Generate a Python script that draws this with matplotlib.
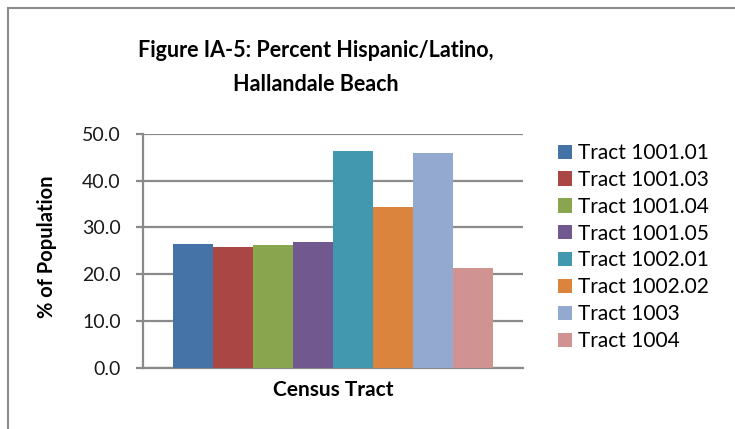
import numpy as np
import matplotlib
matplotlib.use("Agg")
import matplotlib.pyplot as plt
from matplotlib.lines import Line2D

# percent Hispanic/Latino by census tract
tracts = ["Tract 1001.01", "Tract 1001.03", "Tract 1001.04", "Tract 1001.05",
          "Tract 1002.01", "Tract 1002.02", "Tract 1003", "Tract 1004"]
pct = [26.4, 25.8, 26.2, 26.9, 46.3, 34.3, 45.9, 21.3]
colors = ["#4572A7", "#AA4643", "#89A54E", "#71588F",
          "#4198AF", "#DB843D", "#93A9CF", "#D19392"]
yticks = [0, 10, 20, 30, 40, 50]

plt.rcParams['font.family'] = ['Lato', 'DejaVu Sans']

fig = plt.figure(figsize=(7.35, 4.29), dpi=100)
ax = fig.add_axes([143/735, 1 - 367.7/429, 380/735, 234/429])

n = len(pct)
xs = np.arange(n) - (n - 1) / 2.0
for x, v, c, lab in zip(xs, pct, colors, tracts):
    ax.bar(x, v, width=1.0, color=c, label=lab, zorder=3)

ax.set_xlim(-n / 2.0 - 0.75, n / 2.0 + 0.75)
ax.set_ylim(0, 50)
ax.set_yticks(yticks)
ax.set_yticklabels(["%.1f" % t for t in yticks], fontsize=14, color="#1a1a1a")
ax.set_xticks([])

grid_c = "#8a8a8a"
ax.yaxis.grid(True, color=grid_c, linewidth=1.6, zorder=0)
ax.tick_params(axis="y", direction="out", length=5, width=1.6, color=grid_c, pad=11)
for s in ["top", "right"]:
    ax.spines[s].set_visible(False)
for s in ["left", "bottom"]:
    ax.spines[s].set_color(grid_c)
    ax.spines[s].set_linewidth(1.6)

fig.text(316/735, 1 - 57/429, "Figure IA-5: Percent Hispanic/Latino,",
         ha="center", va="baseline", fontsize=15.5, fontweight="bold")
fig.text(316/735, 1 - 91/429, "Hallandale Beach",
         ha="center", va="baseline", fontsize=15.5, fontweight="bold")
fig.text(47/735, 1 - 247/429, "% of Population", rotation=90,
         ha="center", va="center", fontsize=14.5, fontweight="bold")
fig.text(333/735, 1 - 390/429, "Census Tract",
         ha="center", va="center", fontsize=15, fontweight="bold")

fig.legend(loc="upper left", bbox_to_anchor=(558/735, 1 - 143/429),
           frameon=False, fontsize=15, handlelength=0.68, handleheight=0.68,
           handletextpad=0.3, labelspacing=0.33, borderpad=0, borderaxespad=0)

# outer chart border (left and top edges)
fig.add_artist(Line2D([8/735, 8/735], [0, 1 - 8/429], color="#8c8c8c",
                      linewidth=1.5, transform=fig.transFigure))
fig.add_artist(Line2D([8/735, 1], [1 - 8/429, 1 - 8/429], color="#8c8c8c",
                      linewidth=1.5, transform=fig.transFigure))

fig.savefig("out.png", dpi=100)
